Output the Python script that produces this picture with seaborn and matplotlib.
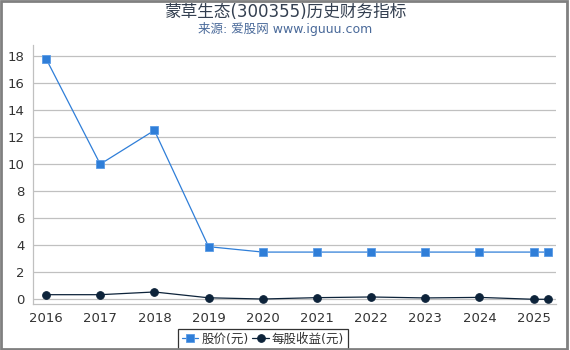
import matplotlib
matplotlib.use("Agg")
import matplotlib.pyplot as plt
import seaborn as sns
import pandas as pd
from matplotlib.patches import Rectangle

years = [2016, 2017, 2018, 2019, 2020, 2021, 2022, 2023, 2024, 2025, 2025.27]
price = [17.8, 10.0, 12.5, 3.9, 3.5, 3.5, 3.5, 3.5, 3.5, 3.5, 3.5]
eps = [0.35, 0.35, 0.55, 0.12, 0.03, 0.13, 0.18, 0.11, 0.15, 0.01, 0.01]
xticks = [2016, 2017, 2018, 2019, 2020, 2021, 2022, 2023, 2024, 2025]
series_names = ["股价(元)", "每股收益(元)"]
title = "蒙草生态(300355)历史财务指标"
subtitle = "来源: 爱股网 www.iguuu.com"

sns.set_theme(style="white")
plt.rcParams['font.family'] = ['DejaVu Sans', 'Noto Sans CJK SC']

df = pd.DataFrame({"year": years, series_names[0]: price, series_names[1]: eps})

fig = plt.figure(figsize=(5.7, 3.5), dpi=100)
ax = fig.add_axes([0.058, 0.131, 0.917, 0.74])

sns.lineplot(data=df, x="year", y=series_names[0], ax=ax, color="#2f7ed8", lw=0.9,
             marker="s", markersize=6, markeredgecolor="#5a9be6", markeredgewidth=0.6,
             label=series_names[0])
sns.lineplot(data=df, x="year", y=series_names[1], ax=ax, color="#0d233a", lw=0.9,
             marker="o", markersize=5.5, markeredgecolor="#0d233a",
             label=series_names[1])

ax.set_xlim(2015.76, 2025.41)
ax.set_ylim(-0.35, 18.8)
ax.set_xticks(xticks)
ax.set_xticklabels([str(x) for x in xticks])
ax.set_yticks(range(0, 19, 2))
ax.set_xlabel("")
ax.set_ylabel("")
ax.grid(axis="y", color="#c0c0c0", lw=0.9)
ax.set_axisbelow(True)
for s in ["top", "right"]:
    ax.spines[s].set_visible(False)
for s in ["left", "bottom"]:
    ax.spines[s].set_color("#c0c0c0")
    ax.spines[s].set_linewidth(0.9)
ax.tick_params(axis="both", labelsize=9.5, colors="#333333", length=4, width=0.8)
ax.tick_params(axis="x", direction="out", color="#c0c0c0", pad=2)
ax.tick_params(axis="y", direction="out", color="#c0c0c0", pad=2)

leg = ax.legend(loc="upper center", bbox_to_anchor=(0.44, -0.095), ncol=2, frameon=True,
                fontsize=9, handlelength=1.3, handletextpad=0.25, columnspacing=0.3,
                borderpad=0.3, borderaxespad=0.0, fancybox=False)
leg.get_frame().set_edgecolor("black")
leg.get_frame().set_linewidth(0.9)
for t in leg.get_texts():
    t.set_color("#333333")

fig.text(0.5, 0.966, title, ha="center", va="center", fontsize=12, color="#333f50")
fig.text(0.5, 0.918, subtitle, ha="center", va="center", fontsize=9, color="#4a6a9a")

fig.patches.append(Rectangle((0.001, 0.002), 0.994, 0.996, transform=fig.transFigure,
                             fill=False, edgecolor="#808080", lw=2.0))

fig.savefig("out.png", dpi=100)
